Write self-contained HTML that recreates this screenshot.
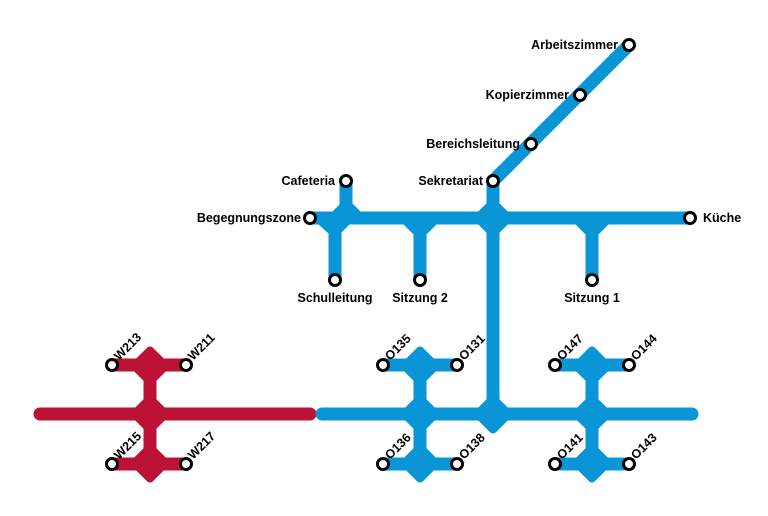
<!DOCTYPE html>
<html><head><meta charset="utf-8"><style>
html,body{margin:0;padding:0;background:#fff;width:768px;height:516px;overflow:hidden}
text{font-family:"Liberation Sans",sans-serif;font-weight:bold;font-size:12.5px;fill:#000}
</style></head><body>
<svg width="768" height="516" viewBox="0 0 768 516" xmlns="http://www.w3.org/2000/svg">
<defs>
<g id="d"><rect x="-15" y="-15" width="30" height="30" rx="4" transform="rotate(45)"/></g>
</defs>
<!-- red -->
<g stroke="#bc1236" stroke-width="13" stroke-linecap="round" fill="none">
<line x1="40" y1="414" x2="310" y2="414"/>
<line x1="150" y1="365" x2="150" y2="464" stroke-linecap="butt"/>
<line x1="112" y1="365" x2="186" y2="365"/>
<line x1="112" y1="464" x2="186" y2="464"/>
</g>
<g fill="#bc1236">
<use href="#d" x="150" y="366"/><use href="#d" x="150" y="414"/><use href="#d" x="150" y="463"/>
</g>
<!-- blue -->
<g stroke="#0a95d6" stroke-width="13" stroke-linecap="round" fill="none">
<line x1="322" y1="414" x2="692" y2="414"/>
<line x1="420" y1="365" x2="420" y2="464" stroke-linecap="butt"/>
<line x1="592" y1="365" x2="592" y2="464" stroke-linecap="butt"/>
<line x1="383" y1="365" x2="457" y2="365"/>
<line x1="383" y1="464" x2="457" y2="464"/>
<line x1="555" y1="365" x2="629" y2="365"/>
<line x1="555" y1="464" x2="629" y2="464"/>
<line x1="493" y1="181" x2="493" y2="414"/>
<line x1="310" y1="218" x2="690" y2="218"/>
<line x1="346" y1="181" x2="346" y2="218"/>
<line x1="335" y1="218" x2="335" y2="280"/>
<line x1="420" y1="218" x2="420" y2="280"/>
<line x1="592" y1="218" x2="592" y2="280"/>
<line x1="493" y1="181" x2="629" y2="45"/>
</g>
<g fill="#0a95d6">
<use href="#d" x="420" y="366"/><use href="#d" x="420" y="414"/><use href="#d" x="420" y="463"/>
<use href="#d" x="592" y="366"/><use href="#d" x="592" y="414"/><use href="#d" x="592" y="463"/>
<use href="#d" x="493" y="414"/><use href="#d" x="493" y="218"/>
<polygon points="332,212 341,203 352,203 361,212 361,224 350,224 340,234 329,234 318,224 318,212"/>
<polygon points="403,224 437,224 427,234 413,234"/>
<polygon points="575,224 609,224 599,234 585,234"/>
</g>
<!-- stations -->
<g fill="#fff" stroke="#000" stroke-width="3">
<circle cx="112" cy="365" r="5.5"/><circle cx="186" cy="365" r="5.5"/>
<circle cx="112" cy="464" r="5.5"/><circle cx="186" cy="464" r="5.5"/>
<circle cx="383" cy="365" r="5.5"/><circle cx="457" cy="365" r="5.5"/>
<circle cx="383" cy="464" r="5.5"/><circle cx="457" cy="464" r="5.5"/>
<circle cx="555" cy="365" r="5.5"/><circle cx="629" cy="365" r="5.5"/>
<circle cx="555" cy="464" r="5.5"/><circle cx="629" cy="464" r="5.5"/>
<circle cx="310" cy="218" r="5.5"/><circle cx="346" cy="181" r="5.5"/>
<circle cx="335" cy="280" r="5.5"/><circle cx="420" cy="280" r="5.5"/>
<circle cx="592" cy="280" r="5.5"/><circle cx="690" cy="218" r="5.5"/>
<circle cx="493" cy="181" r="5.5"/><circle cx="531" cy="144" r="5.5"/>
<circle cx="580" cy="95" r="5.5"/><circle cx="629" cy="45" r="5.5"/>
</g>
<!-- labels -->
<text x="301" y="222" text-anchor="end">Begegnungszone</text>
<text x="335" y="185" text-anchor="end">Cafeteria</text>
<text x="335" y="302" text-anchor="middle">Schulleitung</text>
<text x="420" y="302" text-anchor="middle">Sitzung 2</text>
<text x="592" y="302" text-anchor="middle">Sitzung 1</text>
<text x="703" y="222">Küche</text>
<text x="483" y="185" text-anchor="end">Sekretariat</text>
<text x="520" y="148" text-anchor="end">Bereichsleitung</text>
<text x="569" y="99" text-anchor="end">Kopierzimmer</text>
<text x="618" y="49" text-anchor="end">Arbeitszimmer</text>
<g>
<text transform="translate(119,361) rotate(-45)">W213</text>
<text transform="translate(193,361) rotate(-45)">W211</text>
<text transform="translate(119,460) rotate(-45)">W215</text>
<text transform="translate(193,460) rotate(-45)">W217</text>
<text transform="translate(390,361) rotate(-45)">O135</text>
<text transform="translate(464,361) rotate(-45)">O131</text>
<text transform="translate(390,460) rotate(-45)">O136</text>
<text transform="translate(464,460) rotate(-45)">O138</text>
<text transform="translate(562,361) rotate(-45)">O147</text>
<text transform="translate(636,361) rotate(-45)">O144</text>
<text transform="translate(562,460) rotate(-45)">O141</text>
<text transform="translate(636,460) rotate(-45)">O143</text>
</g>
</svg>
</body></html>
